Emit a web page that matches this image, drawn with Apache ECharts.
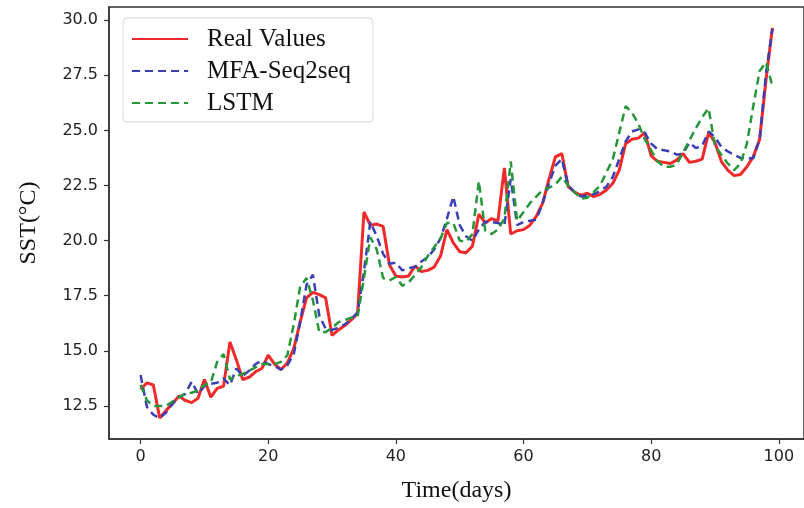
<!DOCTYPE html>
<html>
<head>
<meta charset="utf-8">
<script src="https://cdn.jsdelivr.net/npm/echarts@6/dist/echarts.min.js"></script>
<style>
  html, body { margin: 0; padding: 0; background: #fff; }
  #sstChart { width: 804px; height: 508px; }
</style>
</head>
<body>
<div id="sstChart"></div>
<script>
// 数据
const xTicks = [0, 20, 40, 60, 80, 100];
const yTicks = [12.5, 15.0, 17.5, 20.0, 22.5, 25.0, 27.5, 30.0];

const realValues = [
  13.25, 13.55, 13.45, 11.95, 12.3, 12.6, 12.95, 12.75, 12.65, 12.85,
  13.7, 12.9, 13.3, 13.4, 15.4, 14.6, 13.7, 13.8, 14.05, 14.2,
  14.8, 14.4, 14.15, 14.45, 15.1, 16.3, 17.4, 17.65, 17.55, 17.4,
  15.7, 15.95, 16.15, 16.4, 16.7, 21.3, 20.7, 20.75, 20.65, 18.9,
  18.4, 18.35, 18.4, 18.85, 18.6, 18.65, 18.8, 19.3, 20.5, 19.9,
  19.5, 19.45, 19.75, 21.2, 20.8, 21.0, 20.9, 23.3, 20.3, 20.45,
  20.5, 20.7, 21.1, 21.7, 22.8, 23.8, 23.95, 22.45, 22.2, 22.05,
  22.15, 22.0, 22.1, 22.3, 22.6, 23.2, 24.4, 24.6, 24.65, 24.9,
  23.85, 23.6, 23.55, 23.5, 23.65, 23.95, 23.55, 23.6, 23.7, 24.9,
  24.45, 23.6, 23.2, 22.95, 23.0, 23.35, 23.8, 24.6, 27.3, 29.65
];
const mfaSeq2seq = [
  13.9, 12.45, 12.1, 11.95, 12.2, 12.6, 12.9, 13.05, 13.6, 13.05,
  13.4, 13.5, 13.55, 13.75, 13.45, 14.2, 13.85, 14.1, 14.4, 14.55,
  14.4, 14.3, 14.15, 14.35, 14.85, 16.3, 18.0, 18.45, 16.6, 16.0,
  15.95, 16.05, 16.2, 16.45, 16.75, 18.6, 20.85, 20.2, 19.4, 18.95,
  19.0, 18.65, 18.75, 18.8, 19.05, 19.25, 19.6, 20.1, 21.0, 22.0,
  20.7, 20.2, 20.0, 20.5, 20.85, 20.85, 20.8, 20.7, 22.8, 20.7,
  20.85, 20.9, 20.95, 21.7, 22.6, 23.4, 23.7, 22.5, 22.2, 22.0,
  22.05, 22.1, 22.25, 22.45, 22.9, 23.7, 24.5, 24.95, 25.05, 24.9,
  24.4, 24.15, 24.1, 24.05, 23.9, 23.95, 24.45, 24.2, 24.3, 24.95,
  24.7, 24.25, 24.05, 23.9, 23.75, 23.72, 23.75, 24.6, 27.6, 29.6
];
const lstm = [
  13.45, 12.75, 12.5, 12.5, 12.5, 12.7, 12.9, 13.05, 13.1, 13.2,
  13.45, 13.55, 14.5, 14.85, 13.7, 13.85, 13.95, 14.1, 14.25, 14.4,
  14.4, 14.4, 14.5, 14.8, 16.2, 17.9, 18.3, 17.3, 15.85, 15.85,
  16.05, 16.3, 16.4, 16.5, 16.55, 18.3, 20.15, 19.6, 18.3, 18.2,
  18.35, 17.95, 18.1, 18.45, 18.8, 19.3, 19.7, 20.1, 20.8, 20.8,
  20.0, 19.95, 20.3, 22.7, 20.45, 20.3, 20.5, 21.0, 23.6, 20.9,
  21.3, 21.7, 22.0, 22.3, 22.4, 22.55, 22.9, 22.5, 22.2, 21.9,
  21.95, 22.2, 22.5, 23.1, 23.7, 24.9, 26.1, 25.8, 25.3, 24.6,
  24.1, 23.6, 23.35, 23.35, 23.45, 24.0, 24.55, 25.1, 25.6, 26.0,
  24.3, 23.9, 23.5, 23.2, 23.5, 24.4, 26.1, 27.7, 28.1, 27.0
];

const toPairs = arr => arr.map((v, i) => [i, v]);

const chart = echarts.init(document.getElementById('sstChart'));
const serif = 'Liberation Serif';
const axisColor = '#333';

const option = {
  animation: false,
  backgroundColor: '#fff',
  grid: {
    left: 109,
    right: -7,
    top: 7,
    bottom: 66,
    show: true,
    borderColor: axisColor,
    borderWidth: 1.5,
    containLabel: false
  },
  legend: {
    orient: 'vertical',
    left: 123,
    top: 18,
    padding: [8, 22, 6, 8],
    itemWidth: 56,
    itemHeight: 14,
    itemGap: 6,
    backgroundColor: '#fff',
    borderColor: '#d6d6d6',
    borderWidth: 1,
    borderRadius: 4,
    itemStyle: { opacity: 0 }, // 只留线段，不要圆点
    textStyle: {
      fontFamily: serif,
      fontSize: 25,
      color: '#111',
      lineHeight: 26,
      padding: [0, 0, 0, 14]
    },
    data: ['Real Values', 'MFA-Seq2seq', 'LSTM']
  },
  xAxis: {
    type: 'value',
    min: -4.95,
    max: 103.95,
    name: 'Time(days)',
    nameLocation: 'middle',
    nameGap: 40,
    nameTextStyle: { fontFamily: serif, fontSize: 24, color: '#111' },
    axisLine: { show: true, onZero: false, lineStyle: { color: axisColor, width: 1.5 } },
    axisTick: { show: true, length: 5, customValues: xTicks, lineStyle: { color: axisColor, width: 1.2 } },
    axisLabel: { customValues: xTicks, fontSize: 16, color: '#222', margin: 10, fontFamily: 'DejaVu Sans' },
    splitLine: { show: false }
  },
  yAxis: {
    type: 'value',
    min: 11.0,
    max: 30.6,
    name: 'SST(°C)',
    nameLocation: 'middle',
    nameGap: 68,
    nameRotate: 90,
    nameTextStyle: { fontFamily: serif, fontSize: 24, color: '#111' },
    axisLine: { show: true, onZero: false, lineStyle: { color: axisColor, width: 1.5 } },
    axisTick: { show: true, length: 5, customValues: yTicks, lineStyle: { color: axisColor, width: 1.2 } },
    axisLabel: {
      customValues: yTicks,
      fontSize: 16,
      color: '#222',
      margin: 11,
      fontFamily: 'DejaVu Sans',
      formatter: v => v.toFixed(1)
    },
    splitLine: { show: false }
  },
  series: [
    {
      name: 'Real Values',
      type: 'line',
      showSymbol: false,
      symbol: 'none',
      color: '#f02a2a',
      lineStyle: { width: 3, color: '#f02a2a' },
      data: toPairs(realValues)
    },
    {
      name: 'MFA-Seq2seq',
      type: 'line',
      showSymbol: false,
      symbol: 'none',
      color: '#3a40b2',
      lineStyle: { width: 2.5, type: [8, 5], color: '#3a40b2' },
      data: toPairs(mfaSeq2seq)
    },
    {
      name: 'LSTM',
      type: 'line',
      showSymbol: false,
      symbol: 'none',
      color: '#25973a',
      lineStyle: { width: 2.5, type: [8, 5], color: '#25973a' },
      data: toPairs(lstm)
    }
  ]
};

chart.setOption(option);
</script>
</body>
</html>
